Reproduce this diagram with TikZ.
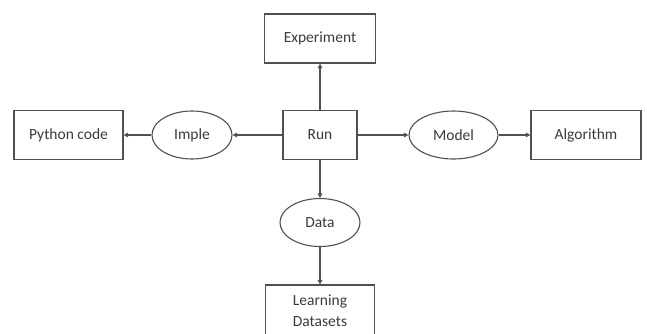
\documentclass[tikz,border=0pt]{standalone}
\usepackage{fontspec}
\setmainfont{Carlito}
\usetikzlibrary{shapes.geometric,arrows.meta}
\definecolor{edge}{HTML}{505050}
\definecolor{ink}{HTML}{3A3A3A}
\tikzset{
  box/.style={draw=edge, line width=1.1pt, rectangle, minimum width=#1, minimum height=49pt, inner sep=0pt, text=ink, font=\fontsize{15.5}{21}\selectfont, align=center},
  oval/.style={draw=edge, line width=1.1pt, ellipse, minimum width=#1, minimum height=48pt, inner sep=0pt, text=ink, font=\fontsize{15.5}{21}\selectfont},
  link/.style={draw=edge, line width=1.1pt, -{Triangle[length=4.5pt,width=4.5pt]}},
}
\begin{document}
\begin{tikzpicture}[x=1pt,y=-1pt]
\useasboundingbox (0,0) rectangle (647,333);
\clip (0,0) rectangle (647,333);
% central column and row
\node[box=111pt] (exp) at (320,38.5) {Experiment};
\node[box=74pt] (run) at (320,135) {Run};
\node[oval=80pt] (data) at (320,222.5) {Data};
\node[box=109pt, minimum height=52pt] (learn) at (320,311) {Learning\\Datasets};
\node[box=109pt] (py) at (68.5,135) {Python code};
\node[oval=80pt] (imple) at (192,135) {Imple};
\node[oval=89pt] (model) at (453.5,135) {Model};
\node[box=110pt] (alg) at (586,135) {Algorithm};
% connectors
\draw[link] (run.north) -- (exp.south);
\draw[link] (run.west) -- (imple.east);
\draw[link] (imple.west) -- (py.east);
\draw[link] (run.east) -- (model.west);
\draw[link] (model.east) -- (alg.west);
\draw[link] (run.south) -- (data.north);
\draw[link] (data.south) -- (learn.north);
\end{tikzpicture}
\end{document}
